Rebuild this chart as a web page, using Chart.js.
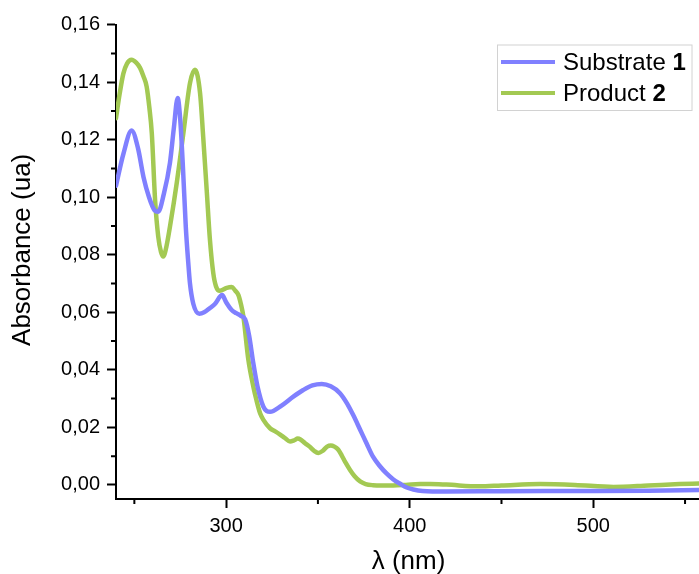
<!DOCTYPE html>
<html>
<head>
<meta charset="utf-8">
<title>UV-Vis absorbance</title>
<script src="https://cdn.jsdelivr.net/npm/chart.js@4/dist/chart.umd.min.js"></script>
<style>
  html, body { margin: 0; padding: 0; background: #ffffff; overflow: hidden; }
  canvas { display: block; }
</style>
</head>
<body>
<canvas id="spectrum" width="699" height="574"></canvas>
<script>
// Absorption spectra (wavelength in nm, absorbance in arbitrary units)
const substrateNm = [240, 244, 248.5, 252, 255, 258, 261, 263, 266, 269.4, 271.5, 273.6, 275, 276.5, 278, 279.4, 280.3, 282.1, 285.4, 288, 291.2, 294, 297.8, 300, 303, 305.5, 308, 310.3, 312.5, 314.8, 317, 320.3, 323.9, 330, 336.6, 342, 347, 352.1, 357, 362, 366, 369.3, 373, 376.6, 380, 383.9, 387.5, 391.1, 395, 398.4, 402, 407, 420, 450, 500, 530, 557.6];
const substrateAbs = [0.104, 0.115, 0.1232, 0.117, 0.107, 0.100, 0.0955, 0.095, 0.101, 0.112, 0.124, 0.1345, 0.127, 0.110, 0.090, 0.077, 0.070, 0.063, 0.0595, 0.060, 0.0615, 0.063, 0.066, 0.0635, 0.0608, 0.0597, 0.0588, 0.0576, 0.052, 0.0423, 0.0345, 0.0272, 0.0254, 0.0275, 0.0307, 0.0330, 0.0346, 0.0351, 0.0343, 0.0319, 0.0282, 0.0242, 0.0192, 0.0143, 0.0098, 0.0064, 0.0039, 0.0019, 0.0003, -0.0009, -0.0016, -0.0021, -0.0023, -0.0022, -0.0021, -0.002, -0.0018];

const productNm = [240, 242, 244, 246, 248.5, 251, 253.1, 255, 256.7, 258.2, 259.5, 261.3, 263, 264.5, 265.8, 267.5, 269.4, 273.1, 276.7, 280.3, 283, 285.8, 287.5, 289.4, 291.2, 293, 294.5, 296.5, 300.3, 303, 305, 306.7, 308, 309.4, 312.1, 314.8, 316.5, 318.5, 320.3, 323.9, 326.5, 329.4, 332, 334.8, 337, 339, 340.5, 343, 345.5, 348, 350.2, 352.5, 355, 357, 359, 361, 363, 365, 367.5, 370, 373, 376, 380, 385, 391, 398, 405.7, 411, 420, 438, 450, 471, 490, 511, 530, 547, 557.6];
const productAbs = [0.1275, 0.136, 0.143, 0.1465, 0.1478, 0.1468, 0.145, 0.142, 0.1385, 0.131, 0.1223, 0.099, 0.0864, 0.081, 0.0794, 0.083, 0.0898, 0.105, 0.1223, 0.1397, 0.1443, 0.1362, 0.121, 0.1026, 0.085, 0.0736, 0.069, 0.0675, 0.0685, 0.0688, 0.0675, 0.066, 0.063, 0.0585, 0.0435, 0.0342, 0.0295, 0.0249, 0.0226, 0.0197, 0.0187, 0.0175, 0.0163, 0.0151, 0.0155, 0.0161, 0.0158, 0.0145, 0.0133, 0.0118, 0.0111, 0.0118, 0.0133, 0.0137, 0.0133, 0.0123, 0.0102, 0.0078, 0.0052, 0.003, 0.0012, 0.0003, -0.0001, -0.0002, -0.0002, 0.0, 0.0003, 0.0003, 0.0001, -0.0005, -0.0002, 0.0003, 0.0, -0.0007, -0.0002, 0.0003, 0.0005];

// Legend names: plain part and bold compound number
const seriesNames = ['Substrate', 'Product'];
const seriesNumbers = ['1', '2'];
const seriesColors = ['#8080ff', '#a3c953'];

// Axis ticks
const xMajorTicks = [300, 400, 500];
const xMinorTicks = [250, 350, 450, 550];
const yMajorTicks = [0, 0.02, 0.04, 0.06, 0.08, 0.10, 0.12, 0.14, 0.16];
const yMinorTicks = [0.01, 0.03, 0.05, 0.07, 0.09, 0.11, 0.13, 0.15];
const xRange = [240, 557.6];
const yRange = [-0.0049, 0.16];

const xTitle = 'λ (nm)';
const yTitle = 'Absorbance (ua)';

const FONT = "'Liberation Sans', Arial, sans-serif";

function toPoints(xs, ys) {
  return xs.map((x, i) => ({ x: x, y: ys[i] }));
}
function isIn(list, v) {
  return list.some(m => Math.abs(m - v) < 1e-9);
}
function fmtComma(v) {
  return v.toFixed(2).replace('.', ',');
}

// Short minor ticks, drawn from the scales' own pixel mapping
const minorTickPlugin = {
  id: 'minorTicks',
  afterDraw(chart) {
    const ctx = chart.ctx;
    const xs = chart.scales.x, ys = chart.scales.y;
    ctx.save();
    ctx.strokeStyle = '#000';
    ctx.lineWidth = 2;
    ctx.beginPath();
    xMinorTicks.forEach(v => {
      const px = xs.getPixelForValue(v);
      ctx.moveTo(px, xs.top);
      ctx.lineTo(px, xs.top + 5);
    });
    yMinorTicks.forEach(v => {
      const py = ys.getPixelForValue(v);
      ctx.moveTo(ys.right, py);
      ctx.lineTo(ys.right - 5, py);
    });
    ctx.stroke();
    ctx.restore();
  }
};

// Axis titles
const axisTitlePlugin = {
  id: 'axisTitles',
  afterDraw(chart) {
    const ctx = chart.ctx;
    const area = chart.chartArea;
    ctx.save();
    ctx.fillStyle = '#000';
    ctx.font = '26px ' + FONT;
    ctx.textAlign = 'center';
    ctx.textBaseline = 'middle';
    ctx.fillText(xTitle, (area.left + area.right) / 2 + 1, 562);
    ctx.translate(23, (area.top + area.bottom) / 2 - 12);
    ctx.rotate(-Math.PI / 2);
    ctx.fillText(yTitle, 0, 0);
    ctx.restore();
  }
};

// Boxed legend with bold compound numbers
const boxLegendPlugin = {
  id: 'boxLegend',
  afterDraw(chart) {
    const ctx = chart.ctx;
    const bx = 497.5, by = 45, bw = 194.5, bh = 65.5;
    ctx.save();
    ctx.fillStyle = '#ffffff';
    ctx.fillRect(bx, by, bw, bh);
    ctx.strokeStyle = '#d2d2d2';
    ctx.lineWidth = 1;
    ctx.strokeRect(bx, by, bw, bh);
    chart.data.datasets.forEach((ds, i) => {
      const cy = 62 + i * 31;
      ctx.strokeStyle = ds.borderColor;
      ctx.lineWidth = 4;
      ctx.beginPath();
      ctx.moveTo(501, cy);
      ctx.lineTo(555, cy);
      ctx.stroke();
      ctx.fillStyle = '#000';
      ctx.textBaseline = 'middle';
      ctx.textAlign = 'left';
      ctx.font = '24px ' + FONT;
      const plain = seriesNames[i] + ' ';
      ctx.fillText(plain, 563, cy + 1);
      const w = ctx.measureText(plain).width;
      ctx.font = 'bold 24px ' + FONT;
      ctx.fillText(seriesNumbers[i], 563 + w, cy + 1);
    });
    ctx.restore();
  }
};

const datasets = [
  { label: seriesNames[0] + ' ' + seriesNumbers[0], data: toPoints(substrateNm, substrateAbs), borderColor: seriesColors[0] },
  { label: seriesNames[1] + ' ' + seriesNumbers[1], data: toPoints(productNm, productAbs), borderColor: seriesColors[1] }
].map(d => Object.assign(d, {
  borderWidth: 4.5,
  pointRadius: 0,
  fill: false,
  cubicInterpolationMode: 'monotone',
  borderCapStyle: 'round',
  borderJoinStyle: 'round'
}));

new Chart(document.getElementById('spectrum'), {
  type: 'line',
  data: { datasets: datasets },
  options: {
    responsive: false,
    animation: false,
    devicePixelRatio: 1,
    layout: { padding: { top: 24.7, right: 0, bottom: 0, left: 0 } },
    plugins: { legend: { display: false }, tooltip: { enabled: false } },
    scales: {
      x: {
        type: 'linear',
        min: xRange[0],
        max: xRange[1],
        afterBuildTicks(scale) {
          scale.ticks = xMinorTicks.concat(xMajorTicks).sort((a, b) => a - b).map(v => ({ value: v }));
        },
        afterFit(scale) { scale.height = 75; },
        ticks: {
          autoSkip: false,
          maxRotation: 0,
          padding: 6,
          color: '#000',
          font: { family: FONT, size: 20 },
          callback: v => isIn(xMajorTicks, v) ? String(v) : ''
        },
        grid: {
          display: true,
          drawOnChartArea: false,
          drawTicks: true,
          tickLength: 9,
          tickWidth: 2,
          tickColor: c => (c.tick && isIn(xMajorTicks, c.tick.value)) ? '#000' : 'rgba(0,0,0,0)'
        },
        border: { display: true, color: '#000', width: 2 },
        title: { display: false }
      },
      y: {
        type: 'linear',
        min: yRange[0],
        max: yRange[1],
        afterBuildTicks(scale) {
          scale.ticks = yMinorTicks.concat(yMajorTicks).sort((a, b) => a - b).map(v => ({ value: v }));
        },
        afterFit(scale) { scale.width = 116; },
        ticks: {
          autoSkip: false,
          padding: 7,
          color: '#000',
          font: { family: FONT, size: 20 },
          callback: v => isIn(yMajorTicks, v) ? fmtComma(v) : ''
        },
        grid: {
          display: true,
          drawOnChartArea: false,
          drawTicks: true,
          tickLength: 9,
          tickWidth: 2,
          tickColor: c => (c.tick && isIn(yMajorTicks, c.tick.value)) ? '#000' : 'rgba(0,0,0,0)'
        },
        border: { display: true, color: '#000', width: 2 },
        title: { display: false }
      }
    }
  },
  plugins: [minorTickPlugin, axisTitlePlugin, boxLegendPlugin]
});
</script>
</body>
</html>
